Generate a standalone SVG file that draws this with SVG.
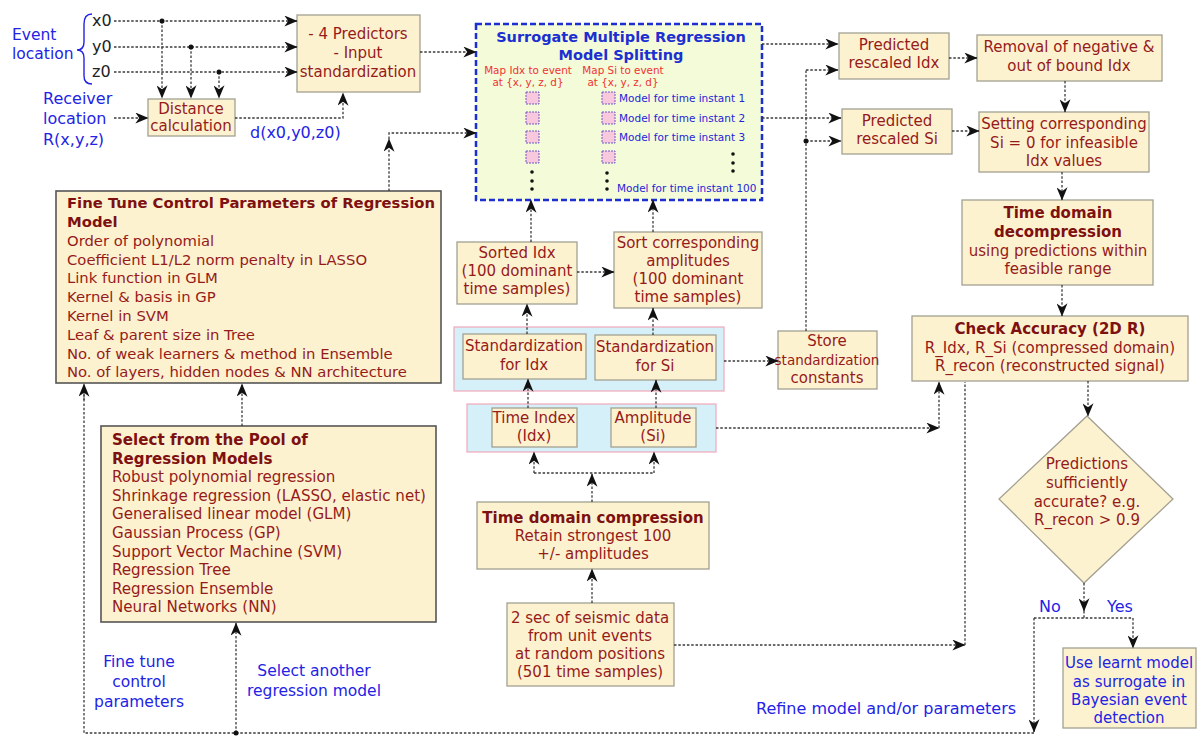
<svg xmlns="http://www.w3.org/2000/svg" width="1203" height="736" viewBox="0 0 1203 736">
<style>
text{font-family:"DejaVu Sans",Verdana,sans-serif}
.t{font-size:15px;fill:#951b1b;text-anchor:middle}
.tl{font-size:14.8px;fill:#951b1b}
.ts{font-size:15.1px;fill:#951b1b}
.b{font-weight:bold;fill:#7d1010}
.bl{font-size:16px;fill:#2323e6}
.blm{font-size:16px;fill:#2323e6;text-anchor:middle}
.red{font-size:10.4px;fill:#f03232;text-anchor:middle}
.mi{font-size:10.5px;fill:#2525d8}
.box{fill:#fdf2cf;stroke:#a3a091;stroke-width:1.3}
.bigbox{fill:#fdf2cf;stroke:#555;stroke-width:1.6}
.cont{fill:#d5f0f8;stroke:#f2a9bb;stroke-width:1.2}
.sq{fill:#f8c8dc;stroke:#6a5ac8;stroke-width:1;stroke-dasharray:2 1}
.c{fill:none;stroke:#3a3a3a;stroke-width:1.3;stroke-dasharray:2.5 1.8}
.a{marker-end:url(#ah)}
</style>
<defs>
<marker id="ah" viewBox="0 0 12 10" refX="11.5" refY="5" markerWidth="15" markerHeight="11" markerUnits="userSpaceOnUse" orient="auto"><path d="M0,0 L12,5 L0,10 L3.5,5 z" fill="#111"/></marker>
</defs>
<rect width="1203" height="736" fill="#fff"/>

<!-- labels -->
<g id="event-location">
<text class="bl" x="12" y="40" style="font-size:15.5px">Event</text>
<text class="bl" x="12" y="59" style="font-size:15.5px">location</text>
<path d="M92,14 Q84,14 84,24 L84,42 Q84,50 77,50 Q84,50 84,58 L84,76 Q84,84 92,84" fill="none" stroke="#2323e6" stroke-width="1.4"/>
<text x="92" y="26" style="font-size:16px;fill:#222">x0</text>
<text x="92" y="52" style="font-size:16px;fill:#222">y0</text>
<text x="92" y="77" style="font-size:16px;fill:#222">z0</text>
</g>
<g id="receiver-location">
<text class="bl" x="43" y="104">Receiver</text>
<text class="bl" x="43" y="124">location</text>
<text class="bl" x="43" y="145">R(x,y,z)</text>
</g>
<text class="bl" x="250" y="138">d(x0,y0,z0)</text>

<g id="distance">
<rect class="box" x="148" y="99" width="87" height="37"/>
<text class="t" x="191" y="114">Distance</text>
<text class="t" x="191" y="131">calculation</text>
</g>

<g id="predictors">
<rect class="box" x="297" y="15" width="123" height="77"/>
<text class="t" x="358" y="39">- 4 Predictors</text>
<text class="t" x="358" y="58">- Input</text>
<text class="t" x="358" y="77">standardization</text>
</g>

<g id="surrogate">
<rect x="476" y="24" width="286" height="176" fill="#f3fbd9" stroke="#1c2fd0" stroke-width="2.5" stroke-dasharray="6 3"/>
<text class="t b" x="621" y="42" style="font-size:14.5px;fill:#1c2fd0">Surrogate Multiple Regression</text>
<text class="t b" x="621" y="60" style="font-size:14.5px;fill:#1c2fd0">Model Splitting</text>
<text class="red" x="528" y="74">Map Idx to event</text>
<text class="red" x="528" y="86">at {x, y, z, d}</text>
<text class="red" x="623" y="74">Map Si to event</text>
<text class="red" x="623" y="86">at {x, y, z, d}</text>
<rect class="sq" x="526" y="92" width="13" height="12"/>
<rect class="sq" x="526" y="112" width="13" height="12"/>
<rect class="sq" x="526" y="131" width="13" height="12"/>
<rect class="sq" x="526" y="151" width="13" height="12"/>
<rect class="sq" x="602" y="92" width="13" height="12"/>
<rect class="sq" x="602" y="112" width="13" height="12"/>
<rect class="sq" x="602" y="131" width="13" height="12"/>
<rect class="sq" x="602" y="151" width="13" height="12"/>
<text class="mi" x="619" y="102">Model for time instant 1</text>
<text class="mi" x="619" y="122">Model for time instant 2</text>
<text class="mi" x="619" y="141">Model for time instant 3</text>
<text class="mi" x="617" y="192">Model for time instant 100</text>
<g fill="#111">
<circle cx="532" cy="172" r="1.8"/><circle cx="532" cy="181" r="1.8"/><circle cx="532" cy="189" r="1.8"/>
<circle cx="607" cy="173" r="1.8"/><circle cx="607" cy="181" r="1.8"/><circle cx="607" cy="189" r="1.8"/>
<circle cx="733" cy="154" r="1.8"/><circle cx="733" cy="163" r="1.8"/><circle cx="733" cy="171" r="1.8"/>
</g>
</g>

<g id="pred-idx">
<rect class="box" x="839" y="33" width="110" height="46"/>
<text class="t" x="894" y="50">Predicted</text>
<text class="t" x="894" y="68">rescaled Idx</text>
</g>
<g id="removal">
<rect class="box" x="977" y="35" width="185" height="46"/>
<text class="t" x="1069" y="52">Removal of negative &amp;</text>
<text class="t" x="1069" y="71">out of bound Idx</text>
</g>
<g id="pred-si">
<rect class="box" x="842" y="109" width="110" height="45"/>
<text class="t" x="897" y="126">Predicted</text>
<text class="t" x="897" y="144">rescaled Si</text>
</g>
<g id="setting">
<rect class="box" x="979" y="112" width="170" height="60"/>
<text class="t" x="1064" y="129">Setting corresponding</text>
<text class="t" x="1064" y="148">Si = 0 for infeasible</text>
<text class="t" x="1064" y="166">Idx values</text>
</g>
<g id="decompression">
<rect class="box" x="962" y="200" width="191" height="85"/>
<text class="t b" x="1058" y="218">Time domain</text>
<text class="t b" x="1058" y="237">decompression</text>
<text class="t" x="1058" y="256">using predictions within</text>
<text class="t" x="1058" y="274">feasible range</text>
</g>
<g id="check-accuracy">
<rect class="box" x="912" y="316" width="276" height="65"/>
<text class="t b" x="1050" y="334">Check Accuracy (2D R)</text>
<text class="t" x="1050" y="353">R_Idx, R_Si (compressed domain)</text>
<text class="t" x="1050" y="371">R_recon (reconstructed signal)</text>
</g>
<g id="decision">
<polygon points="1087,416 1173,499 1084,583 999,499" fill="#fdf2cf" stroke="#a3a091" stroke-width="1.3"/>
<text class="t" x="1087" y="469">Predictions</text>
<text class="t" x="1087" y="488">sufficiently</text>
<text class="t" x="1087" y="507">accurate? e.g.</text>
<text class="t" x="1087" y="525">R_recon &gt; 0.9</text>
</g>
<text class="bl" x="1039" y="612">No</text>
<text class="bl" x="1107" y="612">Yes</text>
<g id="use-learnt">
<rect class="box" x="1063" y="648" width="133" height="80"/>
<text class="t" x="1129" y="668" style="fill:#2323e6">Use learnt model</text>
<text class="t" x="1129" y="687" style="fill:#2323e6">as surrogate in</text>
<text class="t" x="1129" y="705" style="fill:#2323e6">Bayesian event</text>
<text class="t" x="1129" y="723" style="fill:#2323e6">detection</text>
</g>

<g id="sorted-idx">
<rect class="box" x="457" y="242" width="120" height="62"/>
<text class="t" x="517" y="258">Sorted Idx</text>
<text class="t" x="517" y="276">(100 dominant</text>
<text class="t" x="517" y="294">time samples)</text>
</g>
<g id="sort-amp">
<rect class="box" x="614" y="232" width="148" height="76"/>
<text class="t" x="688" y="248">Sort corresponding</text>
<text class="t" x="688" y="266">amplitudes</text>
<text class="t" x="688" y="284">(100 dominant</text>
<text class="t" x="688" y="302">time samples)</text>
</g>
<g id="standardization">
<rect class="cont" x="454" y="327" width="270" height="64"/>
<rect class="box" x="463" y="334" width="123" height="45"/>
<text class="t" x="524" y="351">Standardization</text>
<text class="t" x="524" y="370">for Idx</text>
<rect class="box" x="595" y="335" width="121" height="45"/>
<text class="t" x="655" y="352">Standardization</text>
<text class="t" x="655" y="371">for Si</text>
</g>
<g id="store">
<rect class="box" x="778" y="331" width="99" height="58"/>
<text class="t" x="827" y="346">Store</text>
<text class="t" x="827" y="365" style="font-size:13.5px">standardization</text>
<text class="t" x="827" y="383">constants</text>
</g>
<g id="time-index-amplitude">
<rect class="cont" x="467" y="404" width="249" height="48"/>
<rect class="box" x="492" y="408" width="85" height="39"/>
<text class="t" x="534" y="423">Time Index</text>
<text class="t" x="534" y="441">(Idx)</text>
<rect class="box" x="611" y="408" width="85" height="39"/>
<text class="t" x="653" y="423">Amplitude</text>
<text class="t" x="653" y="441">(Si)</text>
</g>
<g id="compression">
<rect class="box" x="477" y="502" width="232" height="67"/>
<text class="t b" x="593" y="523">Time domain compression</text>
<text class="t" x="593" y="541">Retain strongest 100</text>
<text class="t" x="593" y="559">+/- amplitudes</text>
</g>
<g id="seismic-data">
<rect class="box" x="507" y="603" width="167" height="83"/>
<text class="t" x="590" y="623">2 sec of seismic data</text>
<text class="t" x="590" y="641">from unit events</text>
<text class="t" x="590" y="659">at random positions</text>
<text class="t" x="590" y="677">(501 time samples)</text>
</g>

<g id="fine-tune">
<rect class="bigbox" x="56" y="191" width="385" height="192"/>
<text class="tl b" x="67" y="208">Fine Tune Control Parameters of Regression</text>
<text class="tl b" x="67" y="227">Model</text>
<text class="tl" x="67" y="246">Order of polynomial</text>
<text class="tl" x="67" y="265">Coefficient L1/L2 norm penalty in LASSO</text>
<text class="tl" x="67" y="283">Link function in GLM</text>
<text class="tl" x="67" y="302">Kernel &amp; basis in GP</text>
<text class="tl" x="67" y="321">Kernel in SVM</text>
<text class="tl" x="67" y="340">Leaf &amp; parent size in Tree</text>
<text class="tl" x="67" y="359">No. of weak learners &amp; method in Ensemble</text>
<text class="tl" x="67" y="377">No. of layers, hidden nodes &amp; NN architecture</text>
</g>
<g id="select-pool">
<rect class="bigbox" x="101" y="426" width="335" height="196"/>
<text class="ts b" x="112" y="445">Select from the Pool of</text>
<text class="ts b" x="112" y="464">Regression Models</text>
<text class="ts" x="112" y="482">Robust polynomial regression</text>
<text class="ts" x="112" y="501">Shrinkage regression (LASSO, elastic net)</text>
<text class="ts" x="112" y="519">Generalised linear model (GLM)</text>
<text class="ts" x="112" y="538">Gaussian Process (GP)</text>
<text class="ts" x="112" y="557">Support Vector Machine (SVM)</text>
<text class="ts" x="112" y="575">Regression Tree</text>
<text class="ts" x="112" y="594">Regression Ensemble</text>
<text class="ts" x="112" y="612">Neural Networks (NN)</text>
</g>

<text class="blm" x="139" y="667" style="font-size:15.5px">Fine tune</text>
<text class="blm" x="139" y="687" style="font-size:15.5px">control</text>
<text class="blm" x="139" y="707" style="font-size:15.5px">parameters</text>
<text class="blm" x="314" y="676" style="font-size:15.5px">Select another</text>
<text class="blm" x="314" y="696" style="font-size:15.5px">regression model</text>
<text class="bl" x="756" y="714">Refine model and/or parameters</text>

<!-- connectors -->
<g id="connectors">
<path class="c a" d="M114,21 H297"/>
<path class="c a" d="M114,47 H297"/>
<path class="c a" d="M114,72 H297"/>
<path class="c a" d="M162,21 V98"/>
<path class="c a" d="M191,47 V98"/>
<path class="c a" d="M219,72 V98"/>
<circle cx="162" cy="21" r="2.5" fill="#111"/>
<circle cx="191" cy="47" r="2.5" fill="#111"/>
<circle cx="219" cy="72" r="2.5" fill="#111"/>
<path class="c a" d="M114,118 H148"/>
<path class="c a" d="M235,118 H343 V93"/>
<path class="c a" d="M420,52 H476"/>
<path class="c a" d="M389,191 V139"/>
<path class="c a" d="M389,139 V133 H476"/>
<path class="c a" d="M762,44 H838"/>
<path class="c a" d="M762,118 H841"/>
<path class="c" d="M806,331 V70"/>
<path class="c a" d="M806,70 H838"/>
<path class="c a" d="M806,141 H841"/>
<circle cx="806" cy="141" r="2.5" fill="#111"/>
<path class="c a" d="M949,58 H977"/>
<path class="c a" d="M952,131 H979"/>
<path class="c a" d="M1065,81 V112"/>
<path class="c a" d="M1062,172 V200"/>
<path class="c a" d="M1062,285 V316"/>
<path class="c a" d="M1088,381 V416"/>
<path class="c a" d="M1084,583 V611"/>
<path class="c" d="M1084,611 V618"/>
<path class="c" d="M1034,618 H1133"/>
<path class="c a" d="M1133,618 V648"/>
<path class="c a" d="M1034,618 V732"/>
<path class="c" d="M1034,733 H84 V390"/>
<path class="c a" d="M84,400 V384"/>
<path class="c a" d="M236,733 V623"/>
<circle cx="236" cy="733" r="2.5" fill="#111"/>
<path class="c a" d="M242,426 V384"/>
<path class="c a" d="M531,242 V200"/>
<path class="c a" d="M653,232 V200"/>
<path class="c a" d="M577,272 H614"/>
<path class="c a" d="M527,334 V304"/>
<path class="c a" d="M653,335 V308"/>
<path class="c a" d="M724,361 H778"/>
<path class="c a" d="M528,408 V379"/>
<path class="c a" d="M656,408 V380"/>
<path class="c a" d="M592,502 V474"/>
<path class="c" d="M534,473 H654"/>
<path class="c a" d="M534,473 V452"/>
<path class="c a" d="M654,473 V452"/>
<path class="c a" d="M592,603 V569"/>
<path class="c a" d="M716,428 H939"/>
<path class="c a" d="M939,428 V382"/>
<path class="c a" d="M674,645 H965"/>
<path class="c" d="M965,645 V382"/>
</g>
</svg>
